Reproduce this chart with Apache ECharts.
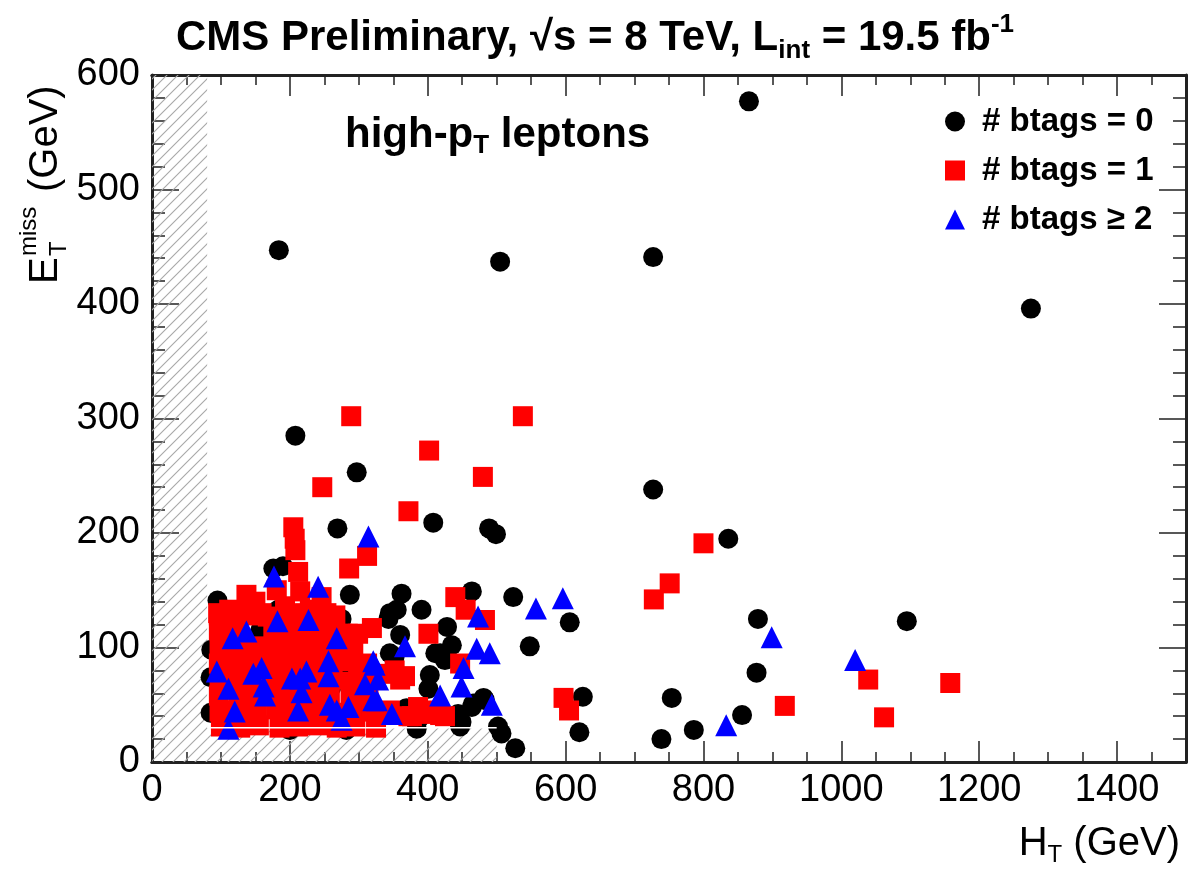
<!DOCTYPE html>
<html>
<head>
<meta charset="utf-8">
<script src="https://cdn.jsdelivr.net/npm/echarts@6/dist/echarts.min.js"></script>
<style>html,body{margin:0;padding:0;background:#fff}#c{width:1190px;height:872px}</style>
</head>
<body>
<div id="c"></div>
<script>
// ---- data: [HT (GeV), MET (GeV)] ----
const btag0 = [
 [866,577],[184,447],[505,437],[727,441],[1275,396],[208,285],[297,253],[727,238],[836,195],[408,209],[489,204],[499,199],[269,204],
 [287,146],[362,147],[464,149],[524,144],[606,122],[548,101],[879,125],[1095,123],[877,78],[754,56],[856,41],[786,28],[739,20],[625,57],[620,26],[507,25],[527,12],
 [345,130],[355,133],[391,133],[343,125],[360,111],[428,118],[435,102],[418,95],[345,95],[352,92],[411,95],[425,89],[403,76],[401,64],[481,56],[466,51],[483,54],[464,48],[444,42],[449,35],[447,31],[502,31],[386,37],[369,47],[384,29],[290,80],[280,80],[294,44],
 [176,169],[190,171],[95,141],[275,125],[183,133],[244,107],[207,53],[200,28],[282,28],[285,83],[241,80],[135,48],[157,115],[217,120],[86,98],[85,74],[85,43],[150,60],[230,55],[260,65]
];
const btag1 = [
 [289,302],[538,302],[402,272],[480,249],[247,240],[372,219],[205,205],[207,195],[208,185],[212,166],[312,180],[286,169],[800,191],[751,156],[728,142],[1039,72],[1158,69],[918,49],[1062,39],[597,56],[605,45],
 [440,144],[455,133],[483,124],[319,117],[401,112],[447,86],[360,72],[340,77],[394,42],[418,41],[372,40],[367,75],[352,80],[299,112],[292,98],[299,80],[304,60],[386,48],[408,45],[425,40],[377,40],
 [137,146],[181,150],[215,149],[246,144],[150,140],[96,130],[125,131],[159,130],[193,136],[229,133],[253,130],[275,112],
 [100,31],[128,30],[155,32],[185,30],[212,31],[240,32],[268,30],[295,31],[325,30],
 [98,44],[124,45],[152,43],[180,46],[208,44],[236,45],[262,43],[290,46],[318,44],[345,45],
 [97,58],[126,59],[150,57],[178,58],[206,60],[232,57],[258,59],[288,58],[314,60],
 [98,73],[125,71],[152,72],[180,74],[208,71],[234,73],[262,72],[290,70],[316,73],
 [97,86],[124,87],[150,85],[178,86],[206,84],[232,87],[260,85],[286,88],[312,86],
 [98,100],[126,99],[152,101],[178,99],[206,100],[234,101],[262,99],[288,101],
 [97,115],[122,117],[176,114],[204,116],[232,113],[256,115],[284,112],
 [97,128],[112,133],[140,128],[168,127],[196,129],[222,130],[248,126],[266,128]
];
const btag2 = [
 [314,197],[177,162],[241,153],[557,134],[596,143],[473,127],[899,109],[1020,89],[833,32],[367,101],[471,99],[490,95],[452,82],[449,66],[418,58],[323,85],[309,68],[328,72],[326,54],[348,42],[285,48],[493,50],
 [137,114],[117,108],[182,123],[227,124],[268,108],[94,79],[159,82],[147,77],[111,64],[162,66],[164,58],[203,73],[215,73],[224,79],[256,88],[256,75],[217,61],[120,44],[212,45],[258,50],[111,29],[275,37],[268,45],[321,88],[321,54]
];
const seriesNames = ['# btags = 0', '# btags = 1', '# btags \u2265 2'];
// excluded (hatched) regions: [xmin, ymin, xmax, ymax]
const hatchRegions = [[0,0,80,600],[80,0,500,30]];
const cutLine = [[80,30],[500,30]];
const xRange = [0, 1500];
const yRange = [0, 600];

const FONT = '"Liberation Sans", Arial, Helvetica, sans-serif';

function hatchPattern(){
  const s = 11, c = document.createElement('canvas');
  c.width = s; c.height = s;
  const g = c.getContext('2d');
  g.strokeStyle = '#a8a8a8'; g.lineWidth = 1.1;
  g.beginPath();
  g.moveTo(0, s); g.lineTo(s, 0);
  g.moveTo(-2, 2); g.lineTo(2, -2);
  g.moveTo(s-2, s+2); g.lineTo(s+2, s-2);
  g.stroke();
  return {image: c, repeat: 'repeat'};
}

const chart = echarts.init(document.getElementById('c'), null, {renderer: 'canvas'});
const axisCol = '#222';
function xAx(pos, interval, len, labels){
  return {
    type: 'value', position: pos, min: xRange[0], max: xRange[1], interval: interval,
    axisLine: {show: true, onZero: false, lineStyle: {color: axisCol, width: 3}},
    axisTick: {show: true, inside: true, length: len, lineStyle: {color: axisCol, width: 1.5}},
    axisLabel: labels ? {show: true, margin: 10, fontSize: 38, color: '#000', fontFamily: FONT,
      formatter: v => (v % 200 === 0 ? String(v) : '')} : {show: false},
    splitLine: {show: false}
  };
}
function yAx(pos, labels){
  return {
    type: 'value', position: pos, min: yRange[0], max: yRange[1], interval: 100,
    axisLine: {show: true, onZero: false, lineStyle: {color: axisCol, width: 3}},
    axisTick: {show: true, inside: true, length: 27, lineStyle: {color: axisCol, width: 1.5}},
    minorTick: {show: true, splitNumber: 5, length: 13, lineStyle: {color: axisCol, width: 1.5}},
    axisLabel: labels ? {show: true, margin: 12, fontSize: 38, color: '#000', fontFamily: FONT} : {show: false},
    splitLine: {show: false}, minorSplitLine: {show: false}
  };
}

const pat = hatchPattern();
const option = {
  backgroundColor: '#fff',
  animation: false,
  title: {
    text: '{a|CMS Preliminary, \u221As = 8 TeV, L}{sub|int}{a| = 19.5 fb}{sup|-1}',
    left: 'center', top: 7,
    textStyle: {rich: {
      a: {fontSize: 42, fontWeight: 'bold', fontFamily: FONT, color: '#000', lineHeight: 52, verticalAlign: 'middle'},
      sub: {fontSize: 26, fontWeight: 'bold', fontFamily: FONT, color: '#000', lineHeight: 26, verticalAlign: 'bottom'},
      sup: {fontSize: 26, fontWeight: 'bold', fontFamily: FONT, color: '#000', lineHeight: 26, verticalAlign: 'top'}
    }}
  },
  grid: {left: 152, top: 75, right: 4, bottom: 110, containLabel: false},
  legend: {
    orient: 'vertical', left: 940, top: 100, itemWidth: 20, itemHeight: 20, itemGap: 16,
    selectedMode: false,
    textStyle: {fontSize: 33, fontWeight: 'bold', fontFamily: FONT, color: '#000', padding: [0,0,0,12]},
    data: [
      {name: seriesNames[0], icon: 'circle'},
      {name: seriesNames[1], icon: 'rect'},
      {name: seriesNames[2], icon: 'triangle'}
    ]
  },
  xAxis: [xAx('bottom', 50, 10, true), xAx('bottom', 200, 21, false), xAx('top', 50, 10, false), xAx('top', 200, 21, false)],
  yAxis: [yAx('left', true), yAx('right', false)],
  graphic: [
    {type: 'text', left: 345, top: 114, z: 20,
     style: {text: '{a|high-p}{sub|T}{a| leptons}', rich: {
       a: {fontSize: 42, fontWeight: 'bold', fontFamily: FONT, fill: '#000', lineHeight: 48, verticalAlign: 'middle'},
       sub: {fontSize: 26, fontWeight: 'bold', fontFamily: FONT, fill: '#000', lineHeight: 24, verticalAlign: 'bottom'}
     }}},
    {type: 'text', right: 10, top: 824, z: 20,
     style: {text: '{a|H}{sub|T}{a| (GeV)}', rich: {
       a: {fontSize: 40, fontFamily: FONT, fill: '#000', lineHeight: 46, verticalAlign: 'middle'},
       sub: {fontSize: 24, fontFamily: FONT, fill: '#000', lineHeight: 22, verticalAlign: 'bottom'}
     }}},
    {type: 'group', x: 46, y: 284, rotation: Math.PI / 2, z: 20, children: [
      {type: 'text', x: 0, y: 0, style: {text: 'E', font: '40px ' + FONT, fill: '#000', textVerticalAlign: 'middle', textAlign: 'left'}},
      {type: 'text', x: 28, y: -17, style: {text: 'miss', font: '24px ' + FONT, fill: '#000', textVerticalAlign: 'middle', textAlign: 'left'}},
      {type: 'text', x: 28, y: 13, style: {text: 'T', font: '24px ' + FONT, fill: '#000', textVerticalAlign: 'middle', textAlign: 'left'}},
      {type: 'text', x: 92, y: 0, style: {text: '(GeV)', font: '40px ' + FONT, fill: '#000', textVerticalAlign: 'middle', textAlign: 'left'}}
    ]}
  ],
  series: [
    {type: 'custom', name: 'hatch', z: 1, silent: true, xAxisIndex: 0, yAxisIndex: 0,
     data: hatchRegions, encode: {x: [0, 2], y: [1, 3]},
     renderItem: function (params, api) {
       const p0 = api.coord([api.value(0), api.value(1)]);
       const p1 = api.coord([api.value(2), api.value(3)]);
       return {type: 'rect', shape: {x: p0[0], y: p1[1], width: p1[0] - p0[0], height: p0[1] - p1[1]}, style: {fill: pat}};
     }},
    {type: 'scatter', name: seriesNames[0], data: btag0, symbol: 'circle', symbolSize: 20, z: 3,
     itemStyle: {color: '#000', opacity: 1}, xAxisIndex: 0, yAxisIndex: 0},
    {type: 'scatter', name: seriesNames[1], data: btag1, symbol: 'rect', symbolSize: 20, z: 4,
     itemStyle: {color: '#ff0000', opacity: 1}, xAxisIndex: 0, yAxisIndex: 0},
    {type: 'scatter', name: seriesNames[2], data: btag2, symbol: 'triangle', symbolSize: 22, z: 5,
     itemStyle: {color: '#0000ff', opacity: 1}, xAxisIndex: 0, yAxisIndex: 0},
    {type: 'line', name: 'cut', data: cutLine, symbol: 'none', z: 6, silent: true,
     lineStyle: {color: '#fff', width: 1.5}, xAxisIndex: 0, yAxisIndex: 0}
  ]
};
chart.setOption(option);
</script>
</body>
</html>
